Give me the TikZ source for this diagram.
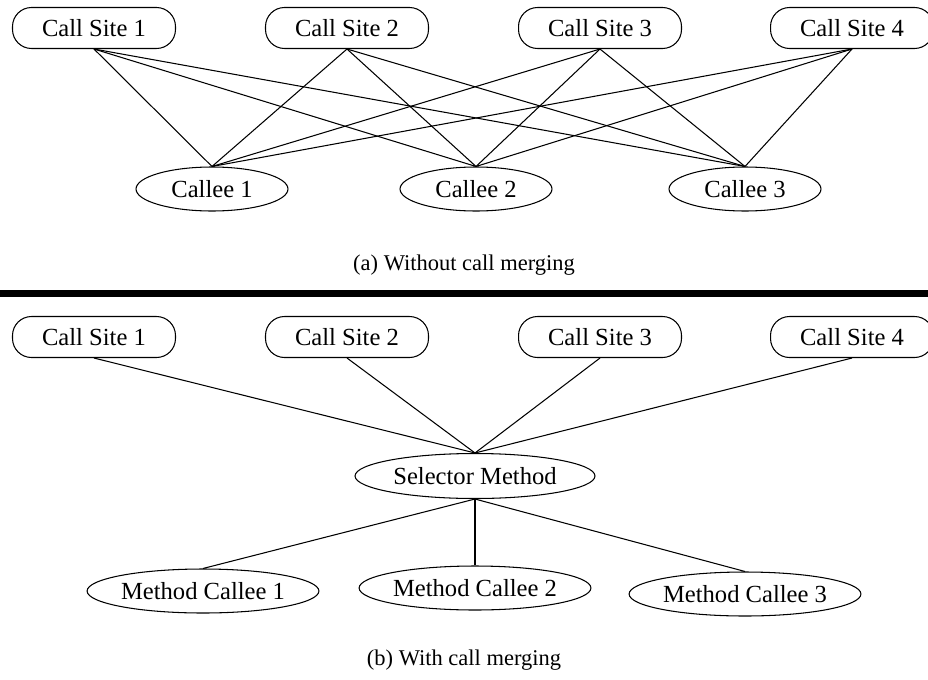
\documentclass[tikz,border=0pt]{standalone}
\usepackage{fontspec}
\setmainfont{Liberation Serif}
\usepackage{tikz}
\usetikzlibrary{shapes.geometric}

\begin{document}
\begin{tikzpicture}[
    x=0.02cm, y=-0.02cm,
    line width=0.6pt,
    site/.style={rectangle, draw, rounded corners=0.38cm, minimum width=3.26cm, minimum height=0.82cm, inner sep=0pt, font=\fontsize{14}{16}\selectfont},
    callee/.style={ellipse, draw, minimum width=3.04cm, minimum height=0.88cm, inner sep=0pt, font=\fontsize{14}{16}\selectfont},
    mcallee/.style={callee, minimum width=4.62cm},
    selector/.style={callee, minimum width=4.8cm, minimum height=0.9cm},
    caption/.style={font=\fontsize{12.8}{15}\selectfont},
    edge/.style={line width=0.6pt}
]
\useasboundingbox (0,0) rectangle (928,679);

% (a) without call merging
\node[site] (a1) at (94,28) {Call Site 1};
\node[site] (a2) at (347,28) {Call Site 2};
\node[site] (a3) at (600,28) {Call Site 3};
\node[site] (a4) at (852,28) {Call Site 4};

\node[callee] (c1) at (212,189) {Callee 1};
\node[callee] (c2) at (476,189) {Callee 2};
\node[callee] (c3) at (745,189) {Callee 3};

\draw[edge] (a1.south) -- (c1.north);
\draw[edge] (a1.south) -- (c2.north);
\draw[edge] (a1.south) -- (c3.north);
\draw[edge] (a2.south) -- (c1.north);
\draw[edge] (a2.south) -- (c2.north);
\draw[edge] (a2.south) -- (c3.north);
\draw[edge] (a3.south) -- (c1.north);
\draw[edge] (a3.south) -- (c2.north);
\draw[edge] (a3.south) -- (c3.north);
\draw[edge] (a4.south) -- (c1.north);
\draw[edge] (a4.south) -- (c2.north);
\draw[edge] (a4.south) -- (c3.north);

\node[caption] (capa) at (464,265) {(a) Without call merging};

\draw[line width=0.14cm] (0,293.5) -- (928,293.5);

% (b) with call merging
\node[site] (b1) at (94,337) {Call Site 1};
\node[site] (b2) at (347,337) {Call Site 2};
\node[site] (b3) at (600,337) {Call Site 3};
\node[site] (b4) at (852,337) {Call Site 4};

\node[selector] (sel) at (475,476) {Selector Method};

\node[mcallee] (m1) at (203,591) {Method Callee 1};
\node[mcallee] (m2) at (475,588) {Method Callee 2};
\node[mcallee] (m3) at (745,594) {Method Callee 3};

\draw[edge] (b1.south) -- (sel.north);
\draw[edge] (b2.south) -- (sel.north);
\draw[edge] (b3.south) -- (sel.north);
\draw[edge] (b4.south) -- (sel.north);

\draw[edge] (sel.south) -- (m1.north);
\draw[edge] (sel.south) -- (m2.north);
\draw[edge] (sel.south) -- (m3.north);

\node[caption] (capb) at (464,660) {(b) With call merging};

\end{tikzpicture}
\end{document}
